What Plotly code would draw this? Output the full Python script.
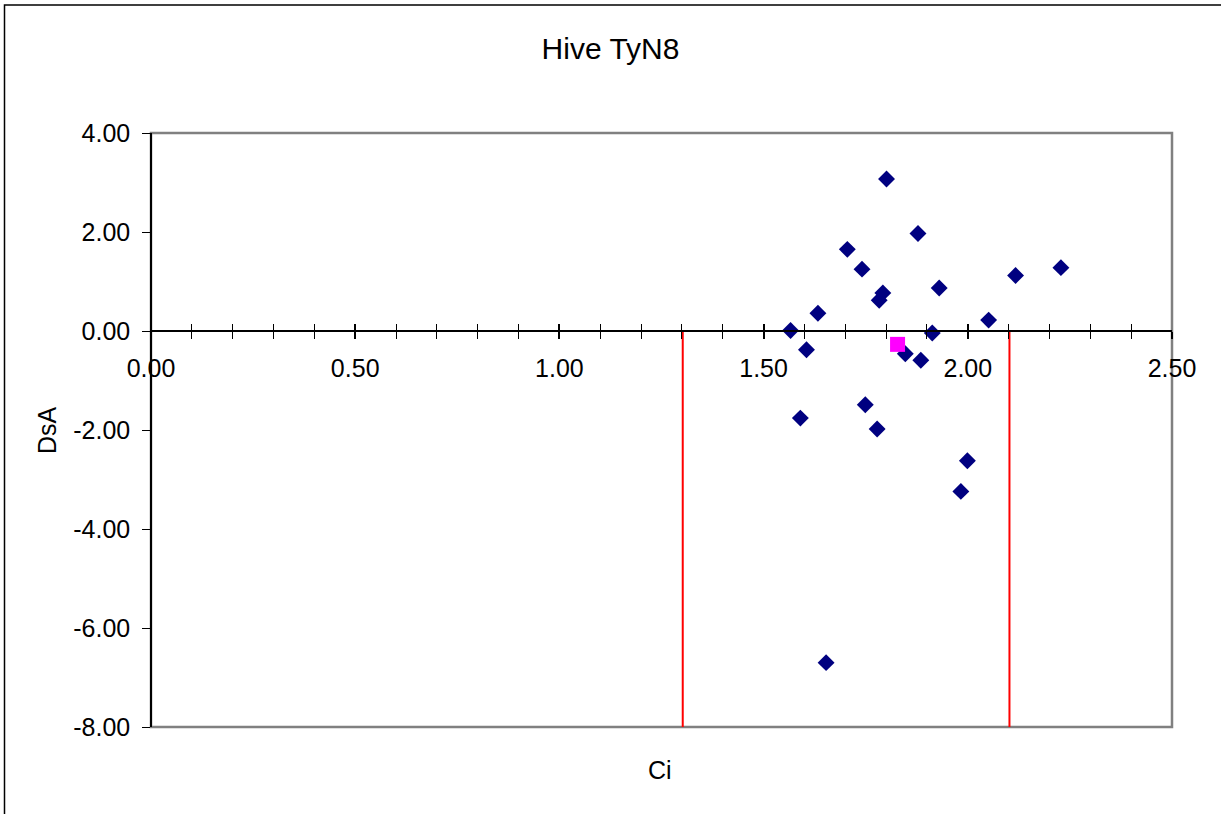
import plotly.graph_objects as go

# ---- data ----
ci = [1.801, 1.878, 1.705, 1.741, 1.792, 1.783, 1.930, 2.117, 2.228, 1.633,
      2.051, 1.566, 1.913, 1.605, 1.847, 1.885, 1.749, 1.590, 1.778, 1.999,
      1.983, 1.653]
dsa = [3.07, 1.97, 1.65, 1.25, 0.77, 0.62, 0.87, 1.12, 1.28, 0.36,
       0.22, 0.01, -0.04, -0.38, -0.46, -0.59, -1.49, -1.76, -1.98, -2.62,
       -3.24, -6.70]
mean_ci = [1.828]
mean_dsa = [-0.27]
limit_ci = [1.302, 2.102]
limit_dsa = [0.0, -8.0]

x_ticks = [0.0, 0.5, 1.0, 1.5, 2.0, 2.5]
y_ticks = [4.0, 2.0, 0.0, -2.0, -4.0, -6.0, -8.0]

FONT = "Liberation Sans, Arial, sans-serif"

fig = go.Figure()

# red limit lines
lx, ly = [], []
for v in limit_ci:
    lx += [v, v, None]
    ly += [limit_dsa[0], limit_dsa[1], None]
fig.add_trace(go.Scatter(x=lx, y=ly, mode="lines",
                         line=dict(color="#FF0000", width=2),
                         hoverinfo="skip", showlegend=False))

fig.add_trace(go.Scatter(x=ci, y=dsa, mode="markers",
                         marker=dict(symbol="diamond", size=13, color="#000080",
                                     line=dict(width=0)),
                         showlegend=False))

fig.add_trace(go.Scatter(x=mean_ci, y=mean_dsa, mode="markers",
                         marker=dict(symbol="square", size=15, color="#FF00FF",
                                     line=dict(width=0)),
                         showlegend=False))

# dummy trace for overlay axis (crossing ticks)
fig.add_trace(go.Scatter(x=[None], y=[None], xaxis="x2", yaxis="y",
                         showlegend=False, hoverinfo="skip"))

fig.update_layout(
    width=1221, height=814,
    margin=dict(l=151, r=49, t=133, b=87),
    paper_bgcolor="white", plot_bgcolor="white",
    font=dict(family=FONT, size=25, color="black"),
    showlegend=False,
    title=dict(text="Hive TyN8", x=0.5, xref="container", xanchor="center",
               y=1 - 48 / 814, yref="container", yanchor="middle",
               font=dict(family=FONT, size=30, color="black")),
    xaxis=dict(range=[0, 2.5], anchor="free", position=8 / 12,
               showgrid=False, zeroline=False,
               showline=True, linecolor="black", linewidth=1.5,
               tickmode="array", tickvals=x_ticks,
               ticktext=[f"{v:.2f}" for v in x_ticks],
               ticks="outside", ticklen=7, tickwidth=1.5, tickcolor="black",
               minor=dict(dtick=0.1, ticks="outside", ticklen=7,
                          tickwidth=1.2, tickcolor="black", showgrid=False),
               ticklabelstandoff=8,
               tickfont=dict(family=FONT, size=25, color="black")),
    xaxis2=dict(range=[0, 2.5], anchor="free", position=8 / 12,
                overlaying="x", showgrid=False, zeroline=False,
                showline=False, showticklabels=False,
                tickmode="array", tickvals=x_ticks,
                ticks="inside", ticklen=7, tickwidth=1.5, tickcolor="black",
                minor=dict(dtick=0.1, ticks="inside", ticklen=7,
                           tickwidth=1.2, tickcolor="black", showgrid=False)),
    yaxis=dict(range=[-8, 4], anchor="free", position=0,
               showgrid=False, zeroline=False,
               showline=True, linecolor="black", linewidth=1.5,
               tickmode="array", tickvals=y_ticks,
               ticktext=[f"{v:.2f}" for v in y_ticks],
               ticks="outside", ticklen=8, tickwidth=1.2, tickcolor="black",
               ticklabelstandoff=7,
               tickfont=dict(family=FONT, size=25, color="black")),
)

# plot-area frame (gray) and outer chart border (black)
fig.add_shape(type="rect", xref="paper", yref="paper", x0=0, x1=1, y0=0, y1=1,
              line=dict(color="#808080", width=2.5), layer="below")
fig.add_shape(type="rect", xref="paper", yref="paper",
              x0=(4.5 - 151) / 1021, x1=(1225 - 151) / 1021,
              y0=-0.3, y1=1 + (133 - 5) / 594,
              line=dict(color="black", width=1.5), layer="below")

fig.add_annotation(text="DsA", xref="paper", yref="paper",
                   x=(47 - 151) / 1021, y=0.5, textangle=-90, showarrow=False,
                   xanchor="center", yanchor="middle",
                   font=dict(family=FONT, size=25, color="black"))
fig.add_annotation(text="Ci", xref="paper", yref="paper",
                   x=(660 - 151) / 1021, y=(727 - 770) / 594, showarrow=False,
                   xanchor="center", yanchor="middle",
                   font=dict(family=FONT, size=25, color="black"))

# remove the page's default body margin so the figure sits at the window origin
fig.write_html("out.html",
               config={"displayModeBar": False},
               post_script="document.body.style.margin='0px';"
                           "document.body.style.overflow='hidden';")
